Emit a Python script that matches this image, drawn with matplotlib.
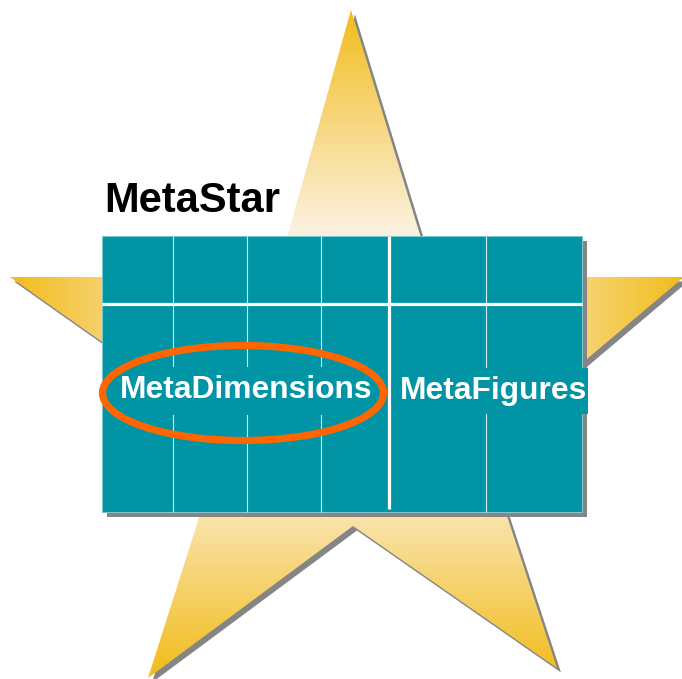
import numpy as np
import matplotlib
matplotlib.use("Agg")
import matplotlib.pyplot as plt
from matplotlib.patches import Polygon, Rectangle, Ellipse

# ---- diagram content ----
title_text = "MetaStar"
left_label = "MetaDimensions"
right_label = "MetaFigures"

# star outline (pixel coordinates, y downwards)
star_x = [351, 433, 684, 484, 557, 353, 148, 227, 10, 276]
star_y = [10, 277, 277, 446, 668, 526, 678, 430, 277, 277]
star_tips = [0, 2, 4, 6, 8]

# table geometry
table_box = [102, 236, 582, 512]          # x0, y0, x1, y1
thin_cols = [173, 247, 321, 486]
thick_col = 389
header_row = 304
text_band = [367, 415]

W, H = 682, 679
TEAL = "#0094A5"
GOLD = np.array([242, 188, 28]) / 255.0
CREAM = np.array([252, 243, 228]) / 255.0
SHADOW = "#858585"

fig = plt.figure(figsize=(W / 100, H / 100), dpi=100)
ax = fig.add_axes([0, 0, 1, 1])
ax.set_xlim(0, W)
ax.set_ylim(H, 0)
ax.axis("off")

pts = np.column_stack([star_x, star_y]).astype(float)

# star shadow
ax.add_patch(Polygon(pts + np.array([4, 4.5]), closed=True, facecolor=SHADOW,
                     edgecolor="none", zorder=1))

# star gradient: each spike shaded along its own axis-aligned direction
cx, cy = 350.0, 380.0
yy, xx = np.mgrid[0:H, 0:W] + 0.5
dx, dy = xx - cx, yy - cy
r = np.hypot(dx, dy) + 1e-9
best = np.full(xx.shape, -np.inf)
spike = np.zeros(xx.shape, dtype=int)
for k, i in enumerate(star_tips):
    ux, uy = pts[i, 0] - cx, pts[i, 1] - cy
    L = np.hypot(ux, uy)
    d = (dx * ux + dy * uy) / (r * L)
    m = d > best
    best[m] = d[m]
    spike[m] = k

g = np.zeros(xx.shape)
# top spike: vertical
g_top = np.clip(((277 - yy) / 267 - 0.15) / 0.85, 0, 1)
# right spike: horizontal
g_right = np.clip(0.58 + 0.42 * (xx - 585) / 99, 0, 1)
# bottom spikes: vertical
g_bot = np.clip(0.28 + 0.72 * (yy - 515) / 160, 0, 1)
# left spike: horizontal
g_left = np.clip(0.61 + 0.39 * (102 - xx) / 92, 0, 1)
g = np.where(spike == 0, g_top, g)
g = np.where(spike == 1, g_right, g)
g = np.where((spike == 2) | (spike == 3), g_bot, g)
g = np.where(spike == 4, g_left, g)

img = CREAM[None, None, :] + (GOLD - CREAM)[None, None, :] * g[..., None]
im = ax.imshow(img, extent=(0, W, H, 0), origin="upper", zorder=2,
               interpolation="bilinear")
clip = Polygon(pts, closed=True, transform=ax.transData)
im.set_clip_path(clip)

# table shadow and body
x0, y0, x1, y1 = table_box
ax.add_patch(Rectangle((x0 + 5, y0 + 5), x1 - x0, y1 - y0, facecolor=SHADOW,
                       edgecolor="none", zorder=3))
ax.add_patch(Rectangle((x0, y0), x1 - x0, y1 - y0, facecolor=TEAL,
                       edgecolor="#7CC6CE", linewidth=0.8, zorder=4))

# grid lines
for cxl in thin_cols:
    ax.plot([cxl, cxl], [y0, y1], color="#D6F0F2", linewidth=0.8, zorder=5,
            solid_capstyle="butt")
ax.plot([x0, x1], [header_row, header_row], color="white", linewidth=2.3,
        zorder=5, solid_capstyle="butt")

# text bands covering the thin lines
ax.add_patch(Rectangle((x0 + 0.5, text_band[0]), 285, text_band[1] - text_band[0],
                       facecolor=TEAL, edgecolor="none", zorder=6))
ax.add_patch(Rectangle((392, text_band[0] + 1), 196, text_band[1] - text_band[0] - 2,
                       facecolor=TEAL, edgecolor="none", zorder=6))

ax.plot([thick_col, thick_col], [y0, y1 - 3], color="white", linewidth=2.3,
        zorder=7, solid_capstyle="butt")

fam = ["Liberation Sans", "DejaVu Sans"]
ax.text(246, 398.5, left_label, color="white", fontsize=22.9, fontweight="bold",
        family=fam, ha="center", va="baseline", zorder=8)
ax.text(399.5, 398.5, right_label, color="white", fontsize=22.9, fontweight="bold",
        family=fam, ha="left", va="baseline", zorder=8)
ax.text(104.5, 212.5, title_text, color="black", fontsize=30, fontweight="bold",
        family=fam, ha="left", va="baseline", zorder=8)

# highlight ellipse
ax.add_patch(Ellipse((243, 393), 281, 95, facecolor="none", edgecolor="#FF6600",
                     linewidth=5.2, zorder=9))

fig.savefig("out.png", dpi=100)
